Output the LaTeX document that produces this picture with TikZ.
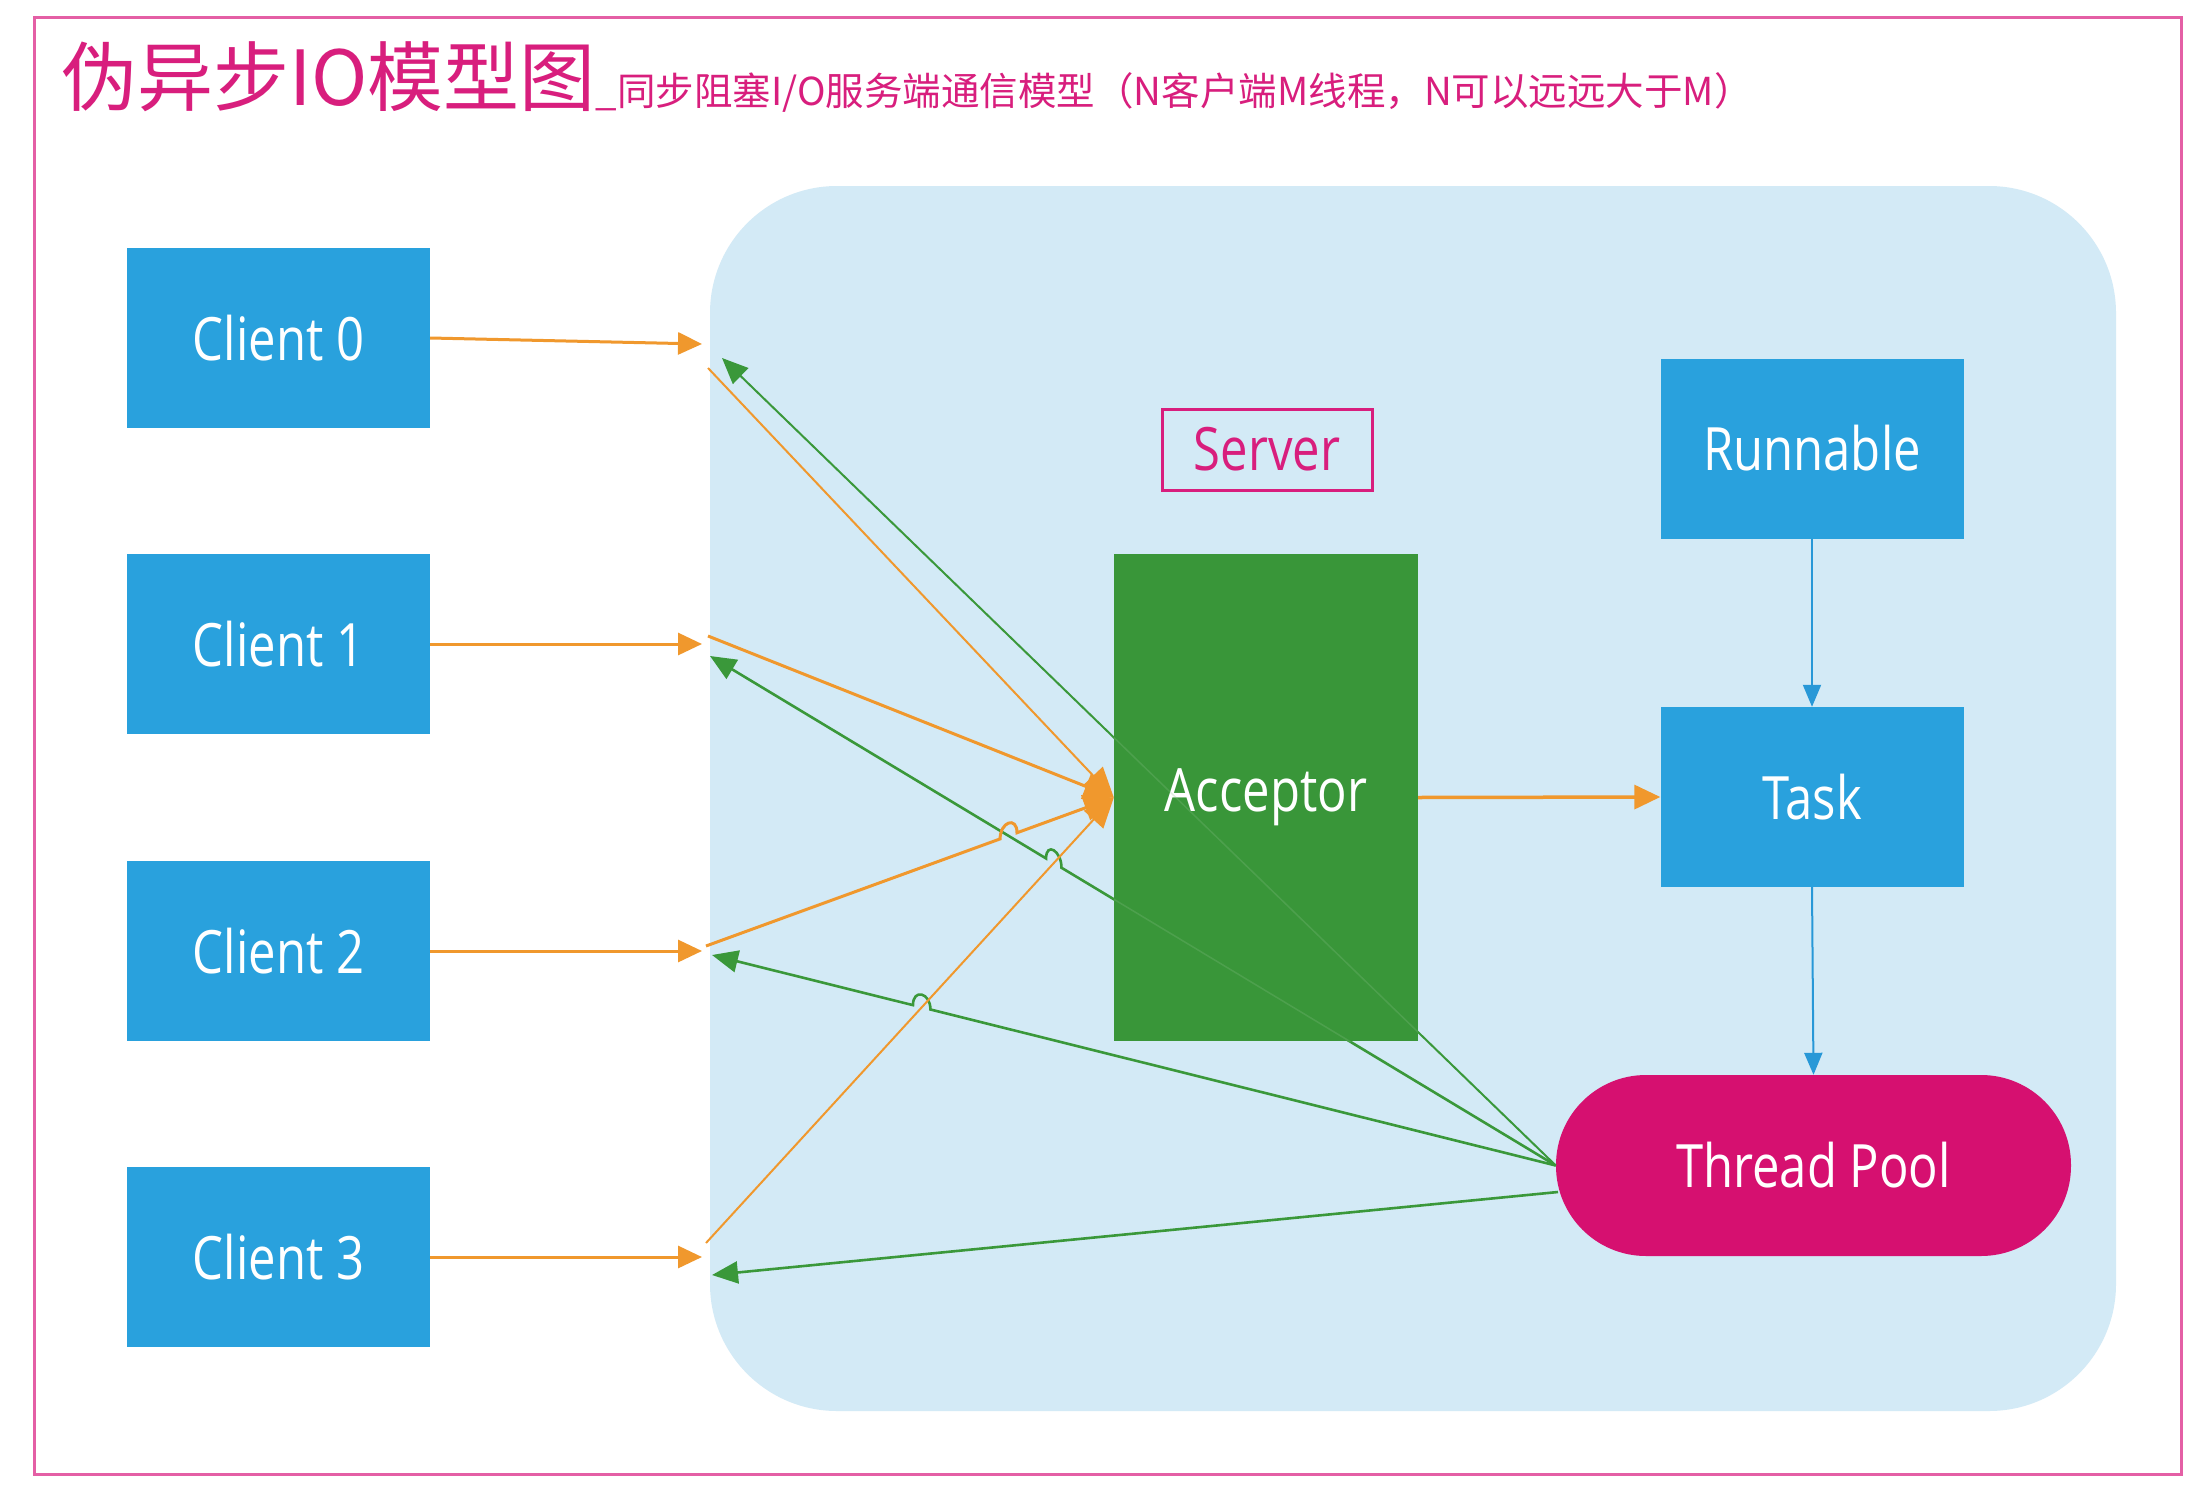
\documentclass[tikz,border=0pt]{standalone}
\usepackage{fontspec}
\setmainfont{Open Sans}
\newfontfamily\cjk{Noto Sans CJK SC}
\usetikzlibrary{arrows.meta,calc,intersections}
\definecolor{cblue}{RGB}{41,161,221}
\definecolor{bglight}{RGB}{211,234,246}
\definecolor{accgreen}{RGB}{57,150,57}
\definecolor{tppink}{RGB}{214,16,112}
\definecolor{ttlpink}{RGB}{216,30,125}
\definecolor{brdpink}{RGB}{228,95,165}
\definecolor{orng}{RGB}{240,152,45}
\definecolor{lgreen}{RGB}{58,152,58}
\definecolor{ablue}{RGB}{40,152,215}
\newcommand\vst[1]{\scalebox{1}[1.22]{#1}}
\begin{document}
\begin{tikzpicture}[x=1pt,y=-1pt,
  box/.style={minimum width=303pt,minimum height=180pt,inner sep=0pt,
    font=\fontsize{49}{52}\selectfont,text=white},
  client/.style={box,fill=cblue},
  oline/.style={draw=orng,line width=3pt},
  othin/.style={draw=orng,line width=2pt},
  gline/.style={draw=lgreen,line width=2.6pt},
  gthin/.style={draw=lgreen,line width=2pt},
  otip/.style={-{Triangle[length=24pt,width=22pt]}},
  obig/.style={-{Triangle[length=30pt,width=26pt]}},
  gtip/.style={-{Triangle[length=26pt,width=22pt]}},
  btip/.style={-{Triangle[length=22pt,width=18pt]}},
]
\useasboundingbox (0,0) rectangle (2212,1488);
\fill[white] (0,0) rectangle (2212,1488);
\node[draw=brdpink,line width=3pt,minimum width=2147pt,minimum height=1456pt,inner sep=0pt] (frame) at (1107.5,746) {};
\node[anchor=base west,inner sep=0pt,text=ttlpink] (title) at (61,105)
  {\cjk\fontsize{76}{80}\selectfont 伪异步IO模型图\fontsize{38.5}{40}\selectfont \_同步阻塞I/O服务端通信模型（N客户端M线程，N可以远远大于M）};

\node[fill=bglight,rounded corners=127pt,minimum width=1406pt,minimum height=1225pt,inner sep=0pt] (area) at (1413,798.5) {};

\node[client] (c0) at (278.5,338) {\vst{Client 0}};
\node[client] (c1) at (278.5,644) {\vst{Client 1}};
\node[client] (c2) at (278.5,951) {\vst{Client 2}};
\node[client] (c3) at (278.5,1257) {\vst{Client 3}};

\node[draw=ttlpink,line width=3pt,fill=bglight,minimum width=210pt,minimum height=81pt,inner sep=0pt,
  font=\fontsize{49}{52}\selectfont,text=ttlpink] (srv) at (1267,449.5) {\vst{Server}};

\node[box,fill=cblue] (run) at (1812,448.5) {\vst{Runnable}};
\node[box,fill=cblue] (task) at (1812,797) {\vst{Task}};
\node[box,fill=tppink,minimum width=515pt,minimum height=181pt,rounded corners=90pt] (tp) at (1813.5,1165.5) {\vst{Thread Pool}};
\node[box,minimum width=304pt,minimum height=487pt] (acc) at (1266,797.5) {};

% free ends
\coordinate (c0t) at (702,344);
\coordinate (c1t) at (702,644);
\coordinate (c2t) at (702,951);
\coordinate (c3t) at (702,1257);
\coordinate (o0) at (708,368);
\coordinate (o1) at (708,636);
\coordinate (o2) at (706,946);
\coordinate (o3) at (706,1243);
\coordinate (g0) at (722,358);
\coordinate (g1) at (710,656);
\coordinate (g2) at (712,955);
\coordinate (g3) at (712,1275);
\coordinate (tp3) at (1558,1192);

% intersections for line hops
\path[name path=pg1] (tp.west) -- (g1);
\path[name path=pg2] (tp.west) -- (g2);
\path[name path=po2] (o2) -- (acc.west);
\path[name path=po3] (o3) -- (acc.west);
\path[name intersections={of=po2 and pg1,by=X1}];
\path[name intersections={of=pg1 and po3,by=X2}];
\path[name intersections={of=pg2 and po3,by=X3}];

% green lines (behind acceptor)
\draw[gthin,gtip] (tp.west) -- (g0);
\draw[gline,gtip] (tp.west) -- ($(X2)!9pt!(tp.west)$) .. controls +(0,-17) and +(0,-17) .. ($(X2)!9pt!(g1)$) -- (g1);
\draw[gline,gtip] (tp.west) -- ($(X3)!9pt!(tp.west)$) .. controls +(0,-17) and +(0,-17) .. ($(X3)!9pt!(g2)$) -- (g2);
\draw[gline,gtip] (tp3) -- (g3);

% acceptor
\node[box,fill=accgreen,minimum width=304pt,minimum height=487pt] (accbox) at (1266,797.5) {\vst{Acceptor}};
\begin{scope}
  \clip (accbox.north west) rectangle (accbox.south east);
  \draw[lgreen!60!white,line width=1.5pt,opacity=0.25] (tp.west) -- (g0);
  \draw[lgreen!60!white,line width=1.5pt,opacity=0.25] (tp.west) -- (g1);
\end{scope}

% client -> server
\draw[oline,otip] (c0.east) -- (c0t);
\draw[oline,otip] (c1.east) -- (c1t);
\draw[oline,otip] (c2.east) -- (c2t);
\draw[oline,otip] (c3.east) -- (c3t);

% orange to acceptor
\draw[othin,obig] (o0) -- (acc.west);
\draw[oline,obig] (o1) -- (acc.west);
\draw[oline,obig] (o2) -- ($(X1)!9pt!(o2)$) .. controls +(0,-17) and +(0,-17) .. ($(X1)!9pt!(acc.west)$) -- (acc.west);
\draw[othin,obig] (o3) -- (acc.west);

% acceptor -> task, runnable -> task -> pool
\draw[oline,line width=3.5pt,-{Triangle[length=26pt,width=24pt]}] (accbox.east) -- (task.west);
\draw[draw=ablue,line width=2pt,btip] (run.south) -- (task.north);
\draw[draw=ablue,line width=2pt,btip] (task.south) -- (tp.north);
\end{tikzpicture}
\end{document}
